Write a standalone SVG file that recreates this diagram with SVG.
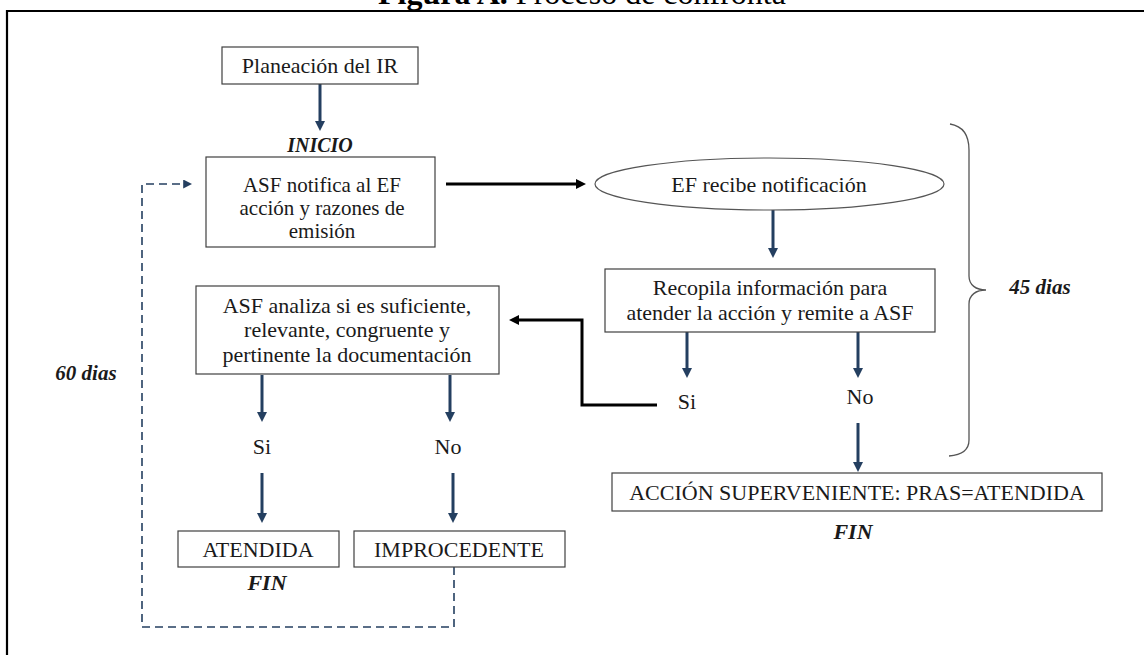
<svg xmlns="http://www.w3.org/2000/svg" width="1144" height="655" viewBox="0 0 1144 655">
<style>
.box{fill:#fff;stroke:#404040;stroke-width:1.2}
.t{font-family:"Liberation Serif","Times New Roman",serif;font-size:22px;fill:#1a1a1a;text-anchor:middle}
.bi{font-family:"Liberation Serif","Times New Roman",serif;font-size:21px;font-weight:bold;font-style:italic;fill:#1a1a1a;text-anchor:middle}
.nav{fill:none;stroke:#243F60;stroke-width:3}
.blk{fill:none;stroke:#000;stroke-width:3}
.dash{fill:none;stroke:#243F60;stroke-width:1.6;stroke-dasharray:8 5}
</style>
<defs>
<marker id="an" viewBox="0 0 10 10" refX="2" refY="5" markerWidth="10" markerHeight="10" markerUnits="userSpaceOnUse" orient="auto"><path d="M0,0 L10,5 L0,10 z" fill="#243F60"/></marker>
<marker id="ab" viewBox="0 0 10 10" refX="2" refY="5" markerWidth="10" markerHeight="10" markerUnits="userSpaceOnUse" orient="auto"><path d="M0,0 L10,5 L0,10 z" fill="#000"/></marker>
<marker id="ad" viewBox="0 0 10 10" refX="2" refY="5" markerWidth="9" markerHeight="9" markerUnits="userSpaceOnUse" orient="auto"><path d="M0,0 L10,5 L0,10 z" fill="#243F60"/></marker>
</defs>
<rect width="1144" height="655" fill="#fff"/>
<text x="582" y="4" style="font-family:'Liberation Serif','Times New Roman',serif;font-size:32px;fill:#000;text-anchor:middle"><tspan font-weight="bold">Figura A.</tspan> Proceso de confronta</text>
<path d="M7,660 V11 H1150" fill="none" stroke="#000" stroke-width="2.2"/>

<g id="connectors">
<path class="nav" d="M320,84 V123" marker-end="url(#an)"/>
<path class="blk" d="M446,184 H578" marker-end="url(#ab)"/>
<path class="nav" d="M773,210 V250" marker-end="url(#an)"/>
<path class="nav" d="M687,330 V370" marker-end="url(#an)"/>
<path class="nav" d="M858,330 V370" marker-end="url(#an)"/>
<path class="nav" d="M858,423 V464" marker-end="url(#an)"/>
<path class="blk" d="M657,405 H582 V320 H517" marker-end="url(#ab)"/>
<path class="nav" d="M262,375 V414" marker-end="url(#an)"/>
<path class="nav" d="M450,375 V414" marker-end="url(#an)"/>
<path class="nav" d="M262,473 V515" marker-end="url(#an)"/>
<path class="nav" d="M453,473 V515" marker-end="url(#an)"/>
<path class="dash" d="M454,567 V627 H142 V184 H185" marker-end="url(#ad)"/>
</g>

<g id="planeacion"><rect class="box" x="222" y="47" width="196" height="37"/><text class="t" x="320" y="73">Planeación del IR</text></g>
<g id="inicio"><text class="bi" x="320" y="152" style="font-size:20px">INICIO</text></g>
<g id="asf-notifica"><rect class="box" x="206" y="157" width="229" height="90"/>
<text class="t" x="322" y="192" style="font-size:21px">ASF notifica al EF</text>
<text class="t" x="322" y="215" style="font-size:21px">acción y razones de</text>
<text class="t" x="322" y="238" style="font-size:21px">emisión</text></g>
<g id="ef-recibe"><ellipse cx="769.5" cy="184" rx="174.5" ry="26" fill="#fff" stroke="#555" stroke-width="1.2"/><text class="t" x="769" y="192">EF recibe notificación</text></g>
<g id="recopila"><rect class="box" x="605" y="269" width="330" height="63"/>
<text class="t" x="770" y="295">Recopila información para</text>
<text class="t" x="770" y="320">atender la acción y remite a ASF</text></g>
<g id="si1"><text class="t" x="687" y="409">Si</text></g>
<g id="no1"><text class="t" x="860" y="404">No</text></g>
<g id="asf-analiza"><rect class="box" x="196" y="286" width="303" height="88"/>
<text class="t" x="347" y="313">ASF analiza si es suficiente,</text>
<text class="t" x="347" y="337">relevante, congruente y</text>
<text class="t" x="347" y="362">pertinente la documentación</text></g>
<g id="si2"><text class="t" x="262" y="454">Si</text></g>
<g id="no2"><text class="t" x="448" y="454">No</text></g>
<g id="atendida"><rect class="box" x="178" y="531" width="161" height="36"/><text class="t" x="258" y="557">ATENDIDA</text></g>
<g id="fin1"><text class="bi" x="267" y="590" style="font-size:22px">FIN</text></g>
<g id="improcedente"><rect class="box" x="354" y="531" width="211" height="36"/><text class="t" x="459" y="557">IMPROCEDENTE</text></g>
<g id="accion"><rect class="box" x="612" y="473" width="490" height="38"/><text class="t" x="857" y="500">ACCIÓN SUPERVENIENTE: PRAS=ATENDIDA</text></g>
<g id="fin2"><text class="bi" x="853" y="539" style="font-size:22px">FIN</text></g>
<g id="brace"><path d="M950,124 C962,126 969,135 969,150 L969,276 C969,285 976,290 986,290 C976,290 969,295 969,304 L969,440 C969,450 962,455 949,456" fill="none" stroke="#555" stroke-width="1.3"/></g>
<g id="d45"><text class="bi" x="1040" y="294">45 dias</text></g>
<g id="d60"><text class="bi" x="86" y="380">60 dias</text></g>
</svg>
